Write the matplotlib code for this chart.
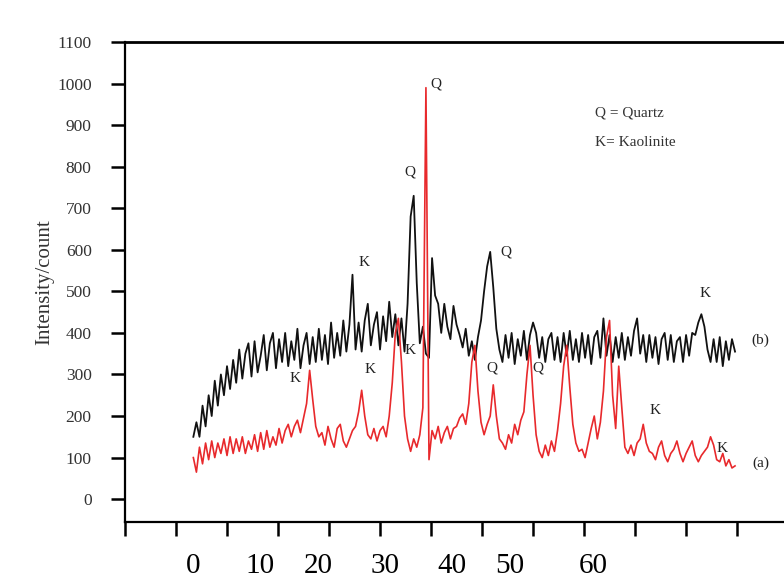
import matplotlib as mpl
import matplotlib.pyplot as plt
import numpy as np

mpl.rcParams.update({
    'font.family': ['Liberation Serif', 'DejaVu Serif'],
    'axes.linewidth': 1.6,
})

# scan range (tick spacing = 5 units)
X_START, X_END = 6.7, 59.8

# (a) red trace, intensity/count
RED = [100, 65, 125, 85, 135, 95, 140, 100, 135, 110,
       145, 105, 150, 110, 145, 115, 150, 110, 140, 120,
       155, 115, 160, 120, 165, 125, 150, 130, 170, 135,
       165, 180, 150, 175, 190, 160, 195, 230,
       310, 240, 175, 150,
       160, 130, 175, 145, 125, 170, 180, 140, 125, 145, 165, 175, 210,
       262, 200, 155,
       145, 170, 140, 165, 175, 150, 200,
       280, 400, 435, 330, 200, 145, 115,
       145, 125, 155, 220, 990, 95,
       165, 145, 175, 135, 160, 175, 145, 170, 175, 195, 205,
       180, 230, 330, 370, 260, 185, 155, 180, 200, 275, 200, 145,
       135, 120, 155, 135, 180, 155, 190, 210, 300, 370, 250, 155, 115, 100,
       130, 105, 140, 115, 165, 230, 320, 370, 270, 180, 135, 115, 120, 100,
       135, 170, 200, 145, 185, 260, 390,
       430, 250, 170, 320, 220, 125, 110, 130, 105, 135, 145, 180, 135, 115,
       110, 95, 125, 140, 105, 90, 110, 120, 140, 110, 90, 110, 125, 140,
       105, 90, 105, 115, 125, 150, 130, 95, 90, 110, 80, 95, 75, 80]

# (b) black trace, intensity/count
BLACK = [150, 185, 150, 225, 175, 250, 200, 285, 225, 300,
         250, 320, 265, 335, 280, 360, 290, 350, 375, 295,
         380, 305, 345, 395, 310, 375, 400, 315, 385, 330,
         400, 320, 380, 335, 410, 315, 370, 400, 325, 390,
         330, 410, 335, 395, 325, 425, 340, 400, 345, 430,
         355, 420, 540,
         360, 425, 355, 430, 470, 370, 420, 450, 360, 440, 380, 475, 390, 445,
         370, 435, 355,
         470, 680, 730, 520, 375, 415, 350, 340, 580, 490,
         470, 400, 470, 415, 385, 465, 420, 395, 365, 410,
         345, 380, 335, 390, 430, 500, 560, 595, 510, 410,
         360, 330, 395, 340, 400, 325, 385, 345, 405, 335,
         395, 425, 400, 340, 390, 330, 385, 400, 335, 390,
         330, 400, 345, 405, 335, 385, 330, 400, 340, 395,
         325, 390, 405, 340, 435, 345, 395, 330, 390, 340,
         400, 335, 390, 345, 405, 435, 350, 395, 330, 395,
         340, 390, 325, 385, 400, 335, 395, 330, 380, 390,
         330, 395, 345, 400, 395, 425, 445, 415, 360, 330,
         385, 330, 390, 320, 380, 335, 385, 355]

# peak labels: (text, x, y)
PEAK_LABELS = [
    ('Q', 30.5, 998), ('Q', 27.9, 787), ('K', 23.4, 570), ('Q', 37.3, 594),
    ('K', 56.9, 496), ('K', 16.7, 291), ('K', 24.0, 313), ('K', 27.9, 358),
    ('Q', 36.0, 315), ('Q', 40.5, 315), ('K', 52.0, 214), ('K', 58.5, 123),
]
TRACE_LABELS = [('(b)', 62.3, 383), ('(a)', 62.3, 87)]
KEY_LINES = ['Q = Quartz', 'K= Kaolinite']

Y_TICKS = list(range(0, 1101, 100))
X_TICKS = list(range(0, 61, 5))
# the printed x labels sit off the tick marks
XLABEL_POS = [6.67, 13.24, 18.92, 25.49, 32.06, 37.75, 45.88]
XLABELS = ['0', '10', '20', '30', '40', '50', '60']

fig = plt.figure(figsize=(7.84, 5.83), dpi=100)
ax = fig.add_axes([125 / 784, 61 / 583, 659 / 784, 480 / 583])

x_red = np.linspace(X_START, X_END, len(RED))
x_black = np.linspace(X_START, X_END, len(BLACK))
ax.plot(x_red, RED, color='#e8292c', lw=1.2, zorder=3)
ax.plot(x_black, BLACK, color='#111111', lw=1.3, zorder=2)

for t, x, y in PEAK_LABELS:
    ax.text(x, y, t, ha='center', va='center', fontsize=11, color='#222222')
for t, x, y in TRACE_LABELS:
    ax.text(x, y, t, ha='center', va='center', fontsize=11, color='#222222')
ax.text(46.1, 929, KEY_LINES[0], ha='left', va='center', fontsize=11, color='#333333')
ax.text(46.1, 857, KEY_LINES[1], ha='left', va='center', fontsize=11, color='#333333')

ax.set_xlim(0, 64.6)
ax.set_ylim(-55, 1100)
ax.set_yticks(Y_TICKS)
ax.set_yticklabels([str(v) for v in Y_TICKS], fontsize=12.5, color='#333333')
ax.set_xticks(X_TICKS)
ax.set_xticklabels([])
ax.set_xticks(XLABEL_POS, XLABELS, minor=True)
ax.tick_params(axis='x', which='minor', length=0, pad=22, labelsize=21)
ax.tick_params(axis='x', which='major', direction='out', length=10, width=1.8)
ax.tick_params(axis='y', direction='out', length=10, width=1.8, pad=14)

ax.spines['right'].set_visible(False)
ax.spines['top'].set_linewidth(2.0)
ax.set_ylabel('Intensity/count', fontsize=15, color='#333333', labelpad=2)

fig.savefig('out.png', dpi=100)
